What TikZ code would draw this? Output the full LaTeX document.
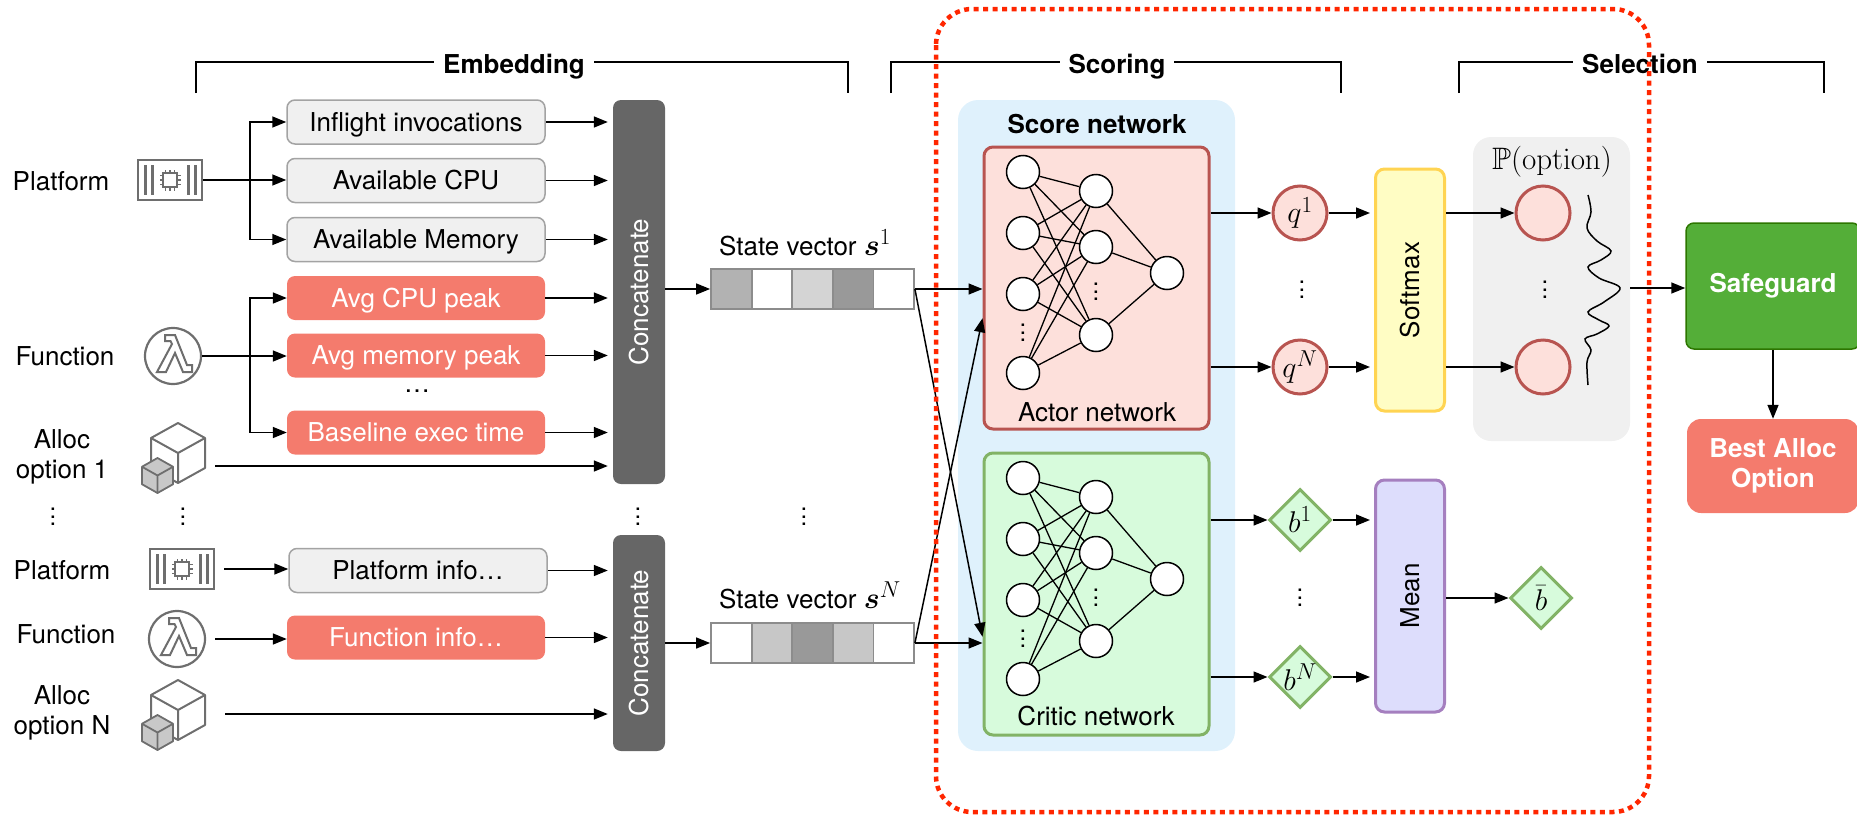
\RequirePackage{fix-cm}
\documentclass[tikz,border=0pt]{standalone}
\usepackage{amsmath,amssymb}
\DeclareFontFamily{U}{msb}{}
\DeclareFontShape{U}{msb}{m}{n}{<-> msbm10}{}
\usepackage[no-math]{fontspec}
\setmainfont{TeX Gyre Heros}
\usetikzlibrary{arrows.meta,calc,shapes.geometric}
\DeclareMathSizes{30}{30}{23}{17}

\definecolor{boxfill}{HTML}{F0F0F0}
\definecolor{boxline}{HTML}{A3A3A3}
\definecolor{salmon}{HTML}{F47B6D}
\definecolor{concat}{HTML}{666666}
\definecolor{iconline}{HTML}{6E6E6E}
\definecolor{cubegray}{HTML}{C8C8C8}
\definecolor{cellline}{HTML}{8C8C8C}
\definecolor{scorebg}{HTML}{DFF1FC}
\definecolor{actorfill}{HTML}{FDE0DB}
\definecolor{actorline}{HTML}{B85450}
\definecolor{criticfill}{HTML}{D7FBDC}
\definecolor{criticline}{HTML}{82B366}
\definecolor{softfill}{HTML}{FFFDC4}
\definecolor{softline}{HTML}{FFD452}
\definecolor{meanfill}{HTML}{DDDDFC}
\definecolor{meanline}{HTML}{A57FBF}
\definecolor{probbg}{HTML}{F0F0F0}
\definecolor{safefill}{HTML}{54AE38}
\definecolor{safeline}{HTML}{2D7600}
\definecolor{dotred}{HTML}{FF2600}

\newcommand{\txtfont}{\fontsize{26}{30}\selectfont}
\newcommand{\mfont}{\fontsize{30}{33}\selectfont}
\newcommand{\pfont}{\fontsize{31}{34}\selectfont}
% three stacked dots
\newcommand{\vdts}{\vbox{\fontsize{24}{8}\selectfont\baselineskip=7.5pt\lineskiplimit=-10pt\hbox{.}\hbox{.}\hbox{.}}}

\tikzset{
  conn/.style={line width=1.5pt, -{Triangle[length=14pt,width=11pt]}},
  bracket/.style={line width=1.4pt},
  grp/.style={font=\txtfont\bfseries, fill=white, inner xsep=9pt, inner ysep=2pt, anchor=base},
  lbl/.style={font=\txtfont, align=center, inner sep=0pt},
  dotsnode/.style={inner sep=0pt},
  boxtext/.style={text height=22pt, text depth=3.3pt},
  infobox/.style={draw=boxline, fill=boxfill, line width=1.5pt, rounded corners=8pt,
    minimum width=258pt, minimum height=44pt, font=\txtfont, inner sep=0pt, boxtext},
  featbox/.style={fill=salmon, rounded corners=8pt, minimum width=258pt,
    minimum height=44pt, font=\txtfont, text=white, inner sep=0pt, boxtext},
  catbox/.style={fill=concat, rounded corners=8pt, minimum width=52pt, inner sep=0pt},
  vtext/.style={rotate=90, font=\txtfont, inner sep=0pt, boxtext},
  iconrect/.style={draw=iconline, line width=2.4pt, fill=white, minimum width=64pt,
    minimum height=40pt, inner sep=0pt},
  iconcirc/.style={circle, draw=iconline, line width=2.2pt, fill=white, minimum size=56pt, inner sep=0pt},
  cell/.style={draw=cellline, line width=1.8pt, minimum width=40.6pt, minimum height=40pt, inner sep=0pt},
  vecframe/.style={draw=cellline, line width=1.8pt, minimum width=203pt, minimum height=40pt, inner sep=0pt},
  neuron/.style={circle, draw, fill=white, line width=1.5pt, minimum size=33pt, inner sep=0pt},
  nnline/.style={line width=1.3pt},
  netbox/.style={rounded corners=9pt, line width=3pt, minimum width=225pt, minimum height=282pt},
  qnode/.style={circle, draw=actorline, fill=actorfill, line width=3pt, minimum size=54pt,
    inner sep=0pt, font=\mfont},
  bnode/.style={diamond, draw=criticline, fill=criticfill, line width=3pt, minimum width=62pt,
    minimum height=62pt, inner sep=0pt, font=\mfont},
  tallbox/.style={rounded corners=9pt, line width=3pt, minimum width=69pt, inner sep=0pt},
  chipicon/.pic={
    \foreach \x in {-25,-18,18,25}{\draw[iconline, line width=3pt] (\x,-15) -- (\x,15);}
    \draw[iconline, line width=2.4pt] (-7,-7) rectangle (7,7);
    \foreach \t in {-4.5,0,4.5}{
      \draw[iconline, line width=1.6pt] (\t,-7) -- (\t,-10.5) (\t,7) -- (\t,10.5)
        (-7,\t) -- (-10.5,\t) (7,\t) -- (10.5,\t);}
  },
  lambdaicon/.pic={
    \draw[iconline, line width=2pt, line join=miter]
      (-8,-21) -- (2,-21) -- (14,9) -- (19,9) -- (19,16) -- (10,16) -- (2,-3)
      -- (-7,16) -- (-16,16) -- (-1,-12) -- (-2.5,-15) -- (-8,-15) -- cycle;
  },
  cubeicon/.pic={
    \draw[iconline, line width=2pt, fill=white, line join=round]
      (0,-30) -- (27,-15) -- (27,15) -- (0,30) -- (-27,15) -- (-27,-15) -- cycle;
    \draw[iconline, line width=2pt] (-27,-15) -- (0,0) -- (27,-15) (0,0) -- (0,30);
    \begin{scope}[shift={(-20.5,22.5)}]
      \draw[iconline, line width=1.8pt, fill=cubegray, line join=round]
        (0,-17.5) -- (15.5,-8.75) -- (15.5,8.75) -- (0,17.5) -- (-15.5,8.75) -- (-15.5,-8.75) -- cycle;
      \draw[iconline, line width=1.8pt] (-15.5,-8.75) -- (0,0) -- (15.5,-8.75) (0,0) -- (0,17.5);
    \end{scope}
  }
}

% a small feed-forward net: 4 inputs, 3 hidden units, 1 output
\newcommand{\drawnet}[2]{%
  \foreach \i/\dy in {1/25,2/86,3/147,4/226}{\node[neuron] (#1a\i) at (1023,{#2+\dy}) {};}
  \foreach \j/\dy in {1/44,2/100,3/188}{\node[neuron] (#1b\j) at (1096,{#2+\dy}) {};}
  \node[neuron] (#1c) at (1167,{#2+126}) {};
  \foreach \i in {1,...,4}{\foreach \j in {1,2,3}{\draw[nnline] (#1a\i) -- (#1b\j);}}
  \foreach \j in {1,2,3}{\draw[nnline] (#1b\j) -- (#1c);}
  \node[dotsnode] (#1da) at (1023,{#2+186}) {\vdts};
  \node[dotsnode] (#1db) at (1096,{#2+145}) {\vdts};
}

\begin{document}
\begin{tikzpicture}[x=1pt,y=-1pt]
\useasboundingbox (0,0) rectangle (1857,814);

% stage brackets
\draw[bracket] (196,93) -- (196,62) -- (848,62) -- (848,93);
\node[grp] (embT) at (514,73) {Embedding};
\draw[bracket] (891,93) -- (891,62) -- (1341,62) -- (1341,93);
\node[grp] (scoT) at (1117,73) {Scoring};
\draw[bracket] (1459,93) -- (1459,62) -- (1824,62) -- (1824,93);
\node[grp] (selT) at (1640,73) {Selection};

% input labels
\node[lbl] (lp1) at (61,181) {Platform};
\node[lbl] (lf1) at (65,356) {Function};
\node[lbl] (la1) at (62,457) {Alloc\\option 1};
\node[dotsnode] (ld1) at (53,517) {\vdts};
\node[dotsnode] (ld2) at (183,517) {\vdts};
\node[lbl] (lpN) at (62,570) {Platform};
\node[lbl] (lfN) at (66,634) {Function};
\node[lbl] (laN) at (62,713) {Alloc\\option N};

% icons
\node[iconrect] (plat1) at (170,180) {};
\pic at (plat1) {chipicon};
\node[iconcirc] (fn1) at (173,356) {};
\pic at (fn1) {lambdaicon};
\pic at (178,453) {cubeicon};
\coordinate (al1) at (215,466);

\node[iconrect] (platN) at (182,569) {};
\pic at (platN) {chipicon};
\node[iconcirc] (fnN) at (177,639) {};
\pic at (fnN) {lambdaicon};
\pic at (178,710) {cubeicon};
\coordinate (alN) at (225,714);

% feature boxes
\node[infobox] (inf) at (416,122) {Inflight invocations};
\node[infobox] (cpu) at (416,180.5) {Available CPU};
\node[infobox] (mem) at (416,239.5) {Available Memory};
\node[featbox] (cpk) at (416,298) {Avg CPU peak};
\node[featbox] (mpk) at (416,355.5) {Avg memory peak};
\node[lbl] (fdots) at (417,391) {\ldots};
\node[featbox] (base) at (416,432.5) {Baseline exec time};
\node[infobox] (pinfo) at (418,570.5) {Platform info…};
\node[featbox] (finfo) at (416,637.5) {Function info…};

% concatenation blocks
\node[catbox, minimum height=384pt] (cat1) at (639,292) {};
\node[vtext, text=white] (cat1t) at (cat1) {Concatenate};
\node[catbox, minimum height=216pt] (catN) at (639,643) {};
\node[vtext, text=white] (catNt) at (catN) {Concatenate};
\node[dotsnode] (cdots) at (638,517) {\vdts};

% embedding connectors
\coordinate (pbr) at (250,180);
\draw[conn] (plat1.east) -- (plat1.east -| cpu.west);
\draw[conn] (plat1.east -| pbr) |- (inf.west);
\draw[conn] (plat1.east -| pbr) |- (mem.west);
\draw[conn] (fn1.east) -- (fn1.east -| mpk.west);
\draw[conn] (fn1.east -| pbr) |- (cpk.west);
\draw[conn] (fn1.east -| pbr) |- (base.west);
\draw[conn, shorten >=5pt] (al1) -- (al1 -| cat1.west);
\draw[conn] ([xshift=9pt]platN.east) -- (platN.east -| pinfo.west);
\draw[conn] ([xshift=9pt]fnN.east) -- (fnN.east -| finfo.west);
\draw[conn, shorten >=5pt] (alN) -- (alN -| catN.west);
\foreach \b in {inf,cpu,mem,cpk,mpk,base}{\draw[conn, shorten >=5pt] (\b.east) -- (\b.east -| cat1.west);}
\draw[conn, shorten >=5pt] (pinfo.east) -- (pinfo.east -| catN.west);
\draw[conn, shorten >=5pt] (finfo.east) -- (finfo.east -| catN.west);

% state vectors
\node[anchor=base west, font=\txtfont, inner sep=0pt] (sv1) at (719,255) {State vector {\mfont$\boldsymbol{s}^{1}$}};
\foreach \k/\c in {0/30,1/0,2/17,3/40,4/0}{\node[cell, fill=black!\c] (va\k) at ({731.3+40.6*\k},289) {};}
\node[vecframe] (vec1) at (812.5,289) {};
\node[anchor=base west, font=\txtfont, inner sep=0pt] (svN) at (719,608) {State vector {\mfont$\boldsymbol{s}^{N}$}};
\foreach \k/\c in {0/0,1/22,2/40,3/22,4/0}{\node[cell, fill=black!\c] (vb\k) at ({731.3+40.6*\k},643) {};}
\node[vecframe] (vecN) at (812.5,643) {};
\node[dotsnode] (vdots) at (804,517) {\vdts};
\draw[conn] (vec1.west -| cat1.east) -- (vec1.west);
\draw[conn] (vecN.west -| catN.east) -- (vecN.west);

% score network
\node[fill=scorebg, rounded corners=20pt, minimum width=277pt, minimum height=651pt] (score) at (1096.5,425.5) {};
\node[font=\txtfont\bfseries, anchor=base, inner sep=0pt] (scoreT) at (1097,133) {Score network};
\node[netbox, draw=actorline, fill=actorfill] (actor) at (1096.5,288) {};
\node[netbox, draw=criticline, fill=criticfill] (critic) at (1096.5,594) {};
\drawnet{an}{147}
\drawnet{cn}{453}
\node[lbl] (actT) at (1097,412) {Actor network};
\node[lbl] (crtT) at (1096,716) {Critic network};

\draw[conn] (vec1.east) -- (vec1.east -| actor.west);
\draw[conn] (vecN.east) -- (vecN.east -| critic.west);
\draw[conn] (vec1.east) -- ($(critic.north west)!0.65!(critic.south west)$);
\draw[conn] (vecN.east) -- ($(actor.north west)!0.606!(actor.south west)$);

% actor outputs and softmax
\node[qnode] (q1) at (1300,213) {$q^{1}$};
\node[qnode] (qN) at (1300,367) {$q^{N}$};
\node[dotsnode] (qd) at (1302,290) {\vdts};
\draw[conn] (actor.east |- q1) -- (q1);
\draw[conn] (actor.east |- qN) -- (qN);
\node[tallbox, fill=softfill, draw=softline, minimum height=242pt] (soft) at (1410,290) {};
\node[vtext] (softT) at (soft) {Softmax};
\draw[conn, shorten >=4pt] (q1) -- (q1 -| soft.west);
\draw[conn, shorten >=4pt] (qN) -- (qN -| soft.west);

% option probabilities
\node[fill=probbg, rounded corners=18pt, minimum width=157pt, minimum height=304pt] (prob) at (1551.5,289) {};
\node[font=\pfont, inner sep=0pt] (probT) at (1552,162) {$\mathbb{P}(\mathrm{option})$};
\node[qnode] (p1) at (1543,213) {};
\node[qnode] (pN) at (1543,367) {};
\node[dotsnode] (pd) at (1545,290) {\vdts};
\draw[conn] (soft.east |- p1) -- (p1);
\draw[conn] (soft.east |- pN) -- (pN);
\draw[line width=1.5pt] plot[smooth, tension=0.6] coordinates {
  (1588,195) (1591,212) (1587,228) (1597,241) (1611,251) (1601,260) (1588,267)
  (1599,278) (1620,288) (1604,302) (1588,312) (1599,320) (1609,326) (1597,334)
  (1585,339) (1591,350) (1587,362) (1588,385)};
\coordinate (wave) at (1630,288);

% selection
\node[fill=safefill, draw=safeline, line width=1.5pt, rounded corners=8pt, minimum width=174pt,
  minimum height=126pt, font=\txtfont\bfseries, text=white] (safe) at (1773,286) {Safeguard};
\draw[conn] (wave) -- (wave -| safe.west);
\node[fill=salmon, rounded corners=14pt, minimum width=172pt, minimum height=94pt,
  font=\txtfont\bfseries, text=white, align=center] (best) at (1773,466) {Best Alloc\\Option};
\draw[conn] (safe) -- (best);

% critic outputs and mean
\node[bnode] (b1) at (1300,520) {$b^{1}$};
\node[bnode] (bN) at (1300,677) {$b^{N}$};
\node[dotsnode] (bd) at (1300,598) {\vdts};
\draw[conn] (critic.east |- b1) -- (b1);
\draw[conn] (critic.east |- bN) -- (bN);
\node[tallbox, fill=meanfill, draw=meanline, minimum height=232pt] (mean) at (1410,596) {};
\node[vtext] (meanT) at (mean) {Mean};
\draw[conn, shorten >=4pt] (b1) -- (b1 -| mean.west);
\draw[conn, shorten >=4pt] (bN) -- (bN -| mean.west);
\node[bnode] (bbar) at (1541,598) {$\bar{b}$};
\draw[conn] (mean.east |- bbar) -- (bbar);

% trained part of the pipeline
\draw[dotred, line width=4.5pt, dash pattern=on 5pt off 4.5pt, rounded corners=36pt]
  (936,9) rectangle (1649,812);
\end{tikzpicture}
\end{document}
